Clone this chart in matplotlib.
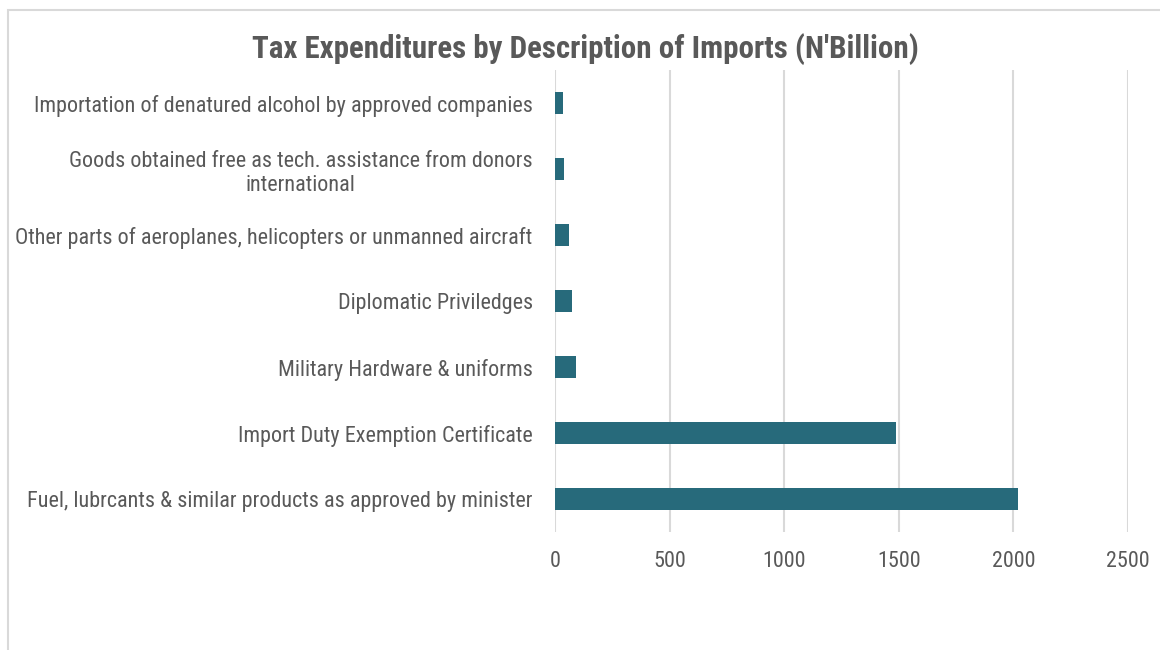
import matplotlib.pyplot as plt
from matplotlib import font_manager
from matplotlib.patches import Rectangle

categories = [
    "Fuel, lubrcants & similar products as approved by minister",
    "Import Duty Exemption Certificate",
    "Military Hardware & uniforms",
    "Diplomatic Priviledges",
    "Other parts of aeroplanes, helicopters or unmanned aircraft",
    "Goods obtained free as tech. assistance from donors\ninternational",
    "Importation of denatured alcohol by approved companies",
]
values = [2020, 1486, 90, 76, 60, 41, 35]
x_ticks = [0, 500, 1000, 1500, 2000, 2500]

# narrow sans for all text, first one that is installed
installed = {f.name for f in font_manager.fontManager.ttflist}
family = next((n for n in ["Roboto Condensed", "PT Sans Narrow", "Archivo Narrow"]
               if n in installed), "Liberation Sans")
plt.rcParams["font.family"] = [family, "DejaVu Sans"]
label_size, title_size = 15.9, 22.3

grey = "#595959"
grid_col = "#d9d9d9"

fig = plt.figure(figsize=(11.6, 6.5), dpi=100)
ax = fig.add_axes([0.4784, 0.1815, 0.494, 0.7108])

ax.barh(range(len(categories)), values, height=0.34, color="#276a7b", zorder=3)

ax.set_ylim(-0.5, len(categories) - 0.5)
ax.set_xlim(0, 2500)
ax.set_xticks(x_ticks)
ax.set_yticks(range(len(categories)))
ax.set_yticklabels(categories)
for lbl in ax.get_yticklabels():
    lbl.set_multialignment("center")

ax.tick_params(axis="both", length=0, labelsize=label_size, labelcolor=grey)
ax.tick_params(axis="y", pad=16)
ax.tick_params(axis="x", pad=14)

ax.grid(axis="x", color=grid_col, linewidth=1.5, zorder=0)
for s in ax.spines.values():
    s.set_visible(False)

fig.text(0.505, 0.925, "Tax Expenditures by Description of Imports (N'Billion)",
         ha="center", va="center", fontsize=title_size, fontweight="bold", color=grey)

# chart frame
fig.patches.append(Rectangle((7.5 / 1160, -0.1), 1.2, 1 - 9.5 / 650 + 0.1,
                             transform=fig.transFigure, fill=False,
                             edgecolor=grid_col, linewidth=1.5))

fig.savefig("out.png", dpi=100)
